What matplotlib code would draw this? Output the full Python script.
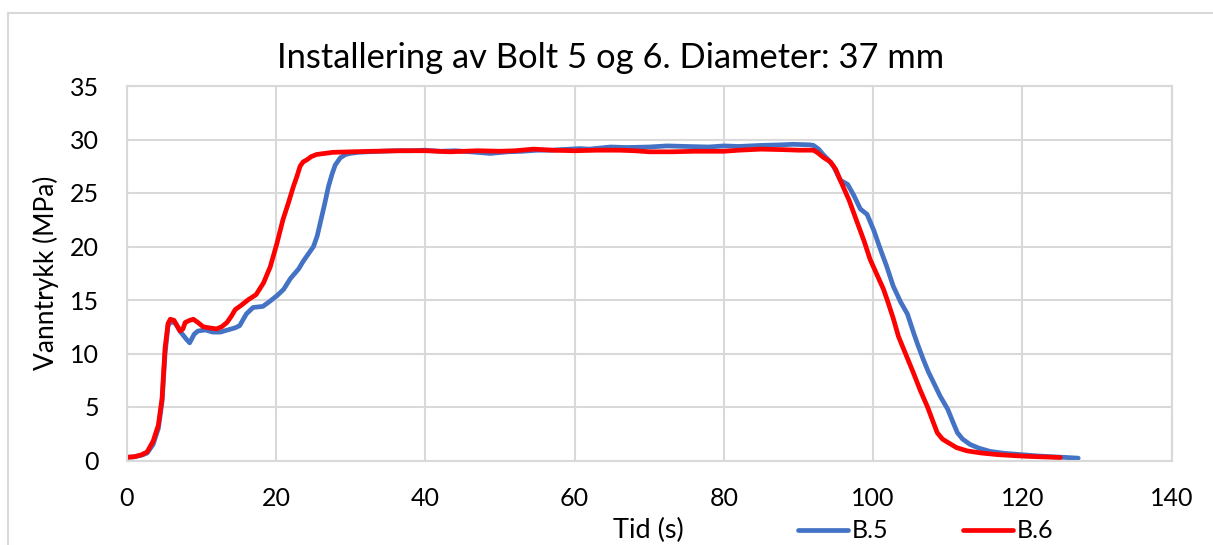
import matplotlib
matplotlib.use("Agg")
import matplotlib.pyplot as plt
from matplotlib.lines import Line2D

plt.rcParams['font.family'] = ['Lato', 'DejaVu Sans']

# Bolt 5 (B.5): time (s) and water pressure (MPa)
t_b5 = [0, 1, 2, 2.7, 3.5, 4.2, 4.7, 5.1, 5.5, 5.9,
        6.5, 7.2, 8.0, 8.4, 9.0, 9.5, 10.5, 11.5, 12.5, 13.5,
        14.5, 15.1, 16.0, 16.9, 18.2, 19.0, 20.1, 21.0, 21.9, 23.0,
        23.6, 24.3, 25.0, 25.5, 25.9, 26.5, 27.0, 27.5, 27.9, 28.6,
        29.3, 29.9, 31, 32.2, 34, 36, 38, 40, 42, 44,
        46, 48.7, 51, 53, 55, 57, 58, 60.7, 62, 64.8,
        67, 70, 72.4, 75, 78, 80, 82, 85, 87.6, 89.3,
        91.5, 92.0, 92.7, 93.3, 94.0, 94.7, 95.6, 96.6, 97.4, 98.3,
        99.2, 100.1, 101.0, 101.8, 102.7, 103.7, 104.6, 105.4, 106.0, 106.7,
        107.4, 108.1, 109.0, 110.0, 110.7, 111.3, 112.0, 113.0, 114.2, 115.7,
        117.5, 119.8, 122, 124, 126, 127.5]
p_b5 = [0.3, 0.35, 0.5, 0.7, 1.5, 3.0, 5.5, 10.0, 12.6, 13.0,
        12.8, 12.0, 11.3, 11.0, 11.8, 12.1, 12.2, 12.0, 12.0, 12.2,
        12.4, 12.6, 13.7, 14.3, 14.4, 14.8, 15.4, 16.0, 17.0, 17.9,
        18.6, 19.3, 20.0, 21.0, 22.2, 24.0, 25.6, 26.8, 27.6, 28.3,
        28.6, 28.7, 28.8, 28.85, 28.9, 28.95, 28.95, 29.0, 28.9, 28.95,
        28.85, 28.7, 28.85, 28.9, 29.0, 29.0, 29.05, 29.15, 29.1, 29.3,
        29.25, 29.3, 29.4, 29.35, 29.3, 29.4, 29.35, 29.45, 29.5, 29.55,
        29.5, 29.45, 29.1, 28.6, 28.1, 27.5, 26.2, 25.8, 24.8, 23.5,
        23.0, 21.5, 19.7, 18.2, 16.3, 14.8, 13.7, 12.0, 10.8, 9.5,
        8.3, 7.3, 6.0, 4.8, 3.6, 2.6, 2.0, 1.5, 1.15, 0.85,
        0.68, 0.55, 0.43, 0.35, 0.28, 0.22]

# Bolt 6 (B.6)
t_b6 = [0, 1, 2, 2.7, 3.5, 4.2, 4.7, 5.1, 5.5, 5.8,
        6.3, 6.8, 7.1, 7.5, 7.8, 8.4, 8.9, 9.5, 10.2, 11.0,
        12.0, 12.7, 13.4, 14.0, 14.5, 15.3, 16.2, 17.3, 18.3, 19.2,
        20.1, 20.9, 21.6, 22.3, 22.8, 23.2, 23.6, 24.1, 24.7, 25.4,
        26.5, 27.6, 30, 33, 36.6, 40, 43.3, 47, 50, 52,
        54.5, 57, 60, 63, 66, 68, 70, 73, 76, 80,
        82, 85, 88, 90, 92.0, 92.5, 93.4, 94.3, 95.0, 95.6,
        96.8, 97.9, 98.8, 99.6, 100.5, 101.4, 101.9, 102.7, 103.4, 104.4,
        105.4, 106.3, 107.3, 108.0, 108.6, 109.3, 110.0, 111.2, 112.6, 114.5,
        116.7, 119, 121, 123, 125.1]
p_b6 = [0.3, 0.35, 0.55, 0.8, 1.8, 3.3, 5.8, 10.5, 12.8, 13.2,
        13.1, 12.5, 12.1, 12.3, 12.9, 13.1, 13.2, 12.9, 12.5, 12.4,
        12.3, 12.5, 12.9, 13.5, 14.1, 14.5, 15.0, 15.5, 16.6, 18.1,
        20.3, 22.5, 24.0, 25.6, 26.6, 27.5, 27.9, 28.1, 28.4, 28.6,
        28.7, 28.8, 28.85, 28.9, 28.95, 28.95, 28.85, 28.95, 28.9, 28.95,
        29.1, 29.0, 28.95, 29.0, 29.0, 28.95, 28.85, 28.85, 28.9, 28.9,
        29.0, 29.1, 29.05, 29.0, 29.0, 28.8, 28.3, 27.9, 27.2, 26.2,
        24.3, 22.2, 20.5, 18.8, 17.4, 16.0, 15.0, 13.3, 11.6, 9.9,
        8.2, 6.6, 5.0, 3.7, 2.6, 2.0, 1.7, 1.2, 0.9, 0.7,
        0.55, 0.45, 0.38, 0.33, 0.28]

x_ticks = [0, 20, 40, 60, 80, 100, 120, 140]
y_ticks = [0, 5, 10, 15, 20, 25, 30, 35]

BLUE = '#4472C4'
RED = '#FF0000'
GRID = '#D9D9D9'

W, H = 1213, 545
fig = plt.figure(figsize=(W / 100, H / 100), dpi=100)
fig.patch.set_facecolor('white')

# chart frame (left and top edges visible)
fig.add_artist(Line2D([7.5 / W, 7.5 / W], [0, 1 - 13 / H], transform=fig.transFigure,
                      color=GRID, lw=1.5))
fig.add_artist(Line2D([7.5 / W, 1], [1 - 13 / H, 1 - 13 / H], transform=fig.transFigure,
                      color=GRID, lw=1.5))

ax = fig.add_axes([127 / W, 1 - 460.5 / H, (1171.5 - 127) / W, (460.5 - 86) / H])
ax.plot(t_b5, p_b5, color=BLUE, lw=3.4, label='B.5', solid_capstyle='round')
ax.plot(t_b6, p_b6, color=RED, lw=3.4, label='B.6', solid_capstyle='round')

ax.set_xlim(0, 140)
ax.set_ylim(0, 35)
ax.set_xticks(x_ticks)
ax.set_yticks(y_ticks)
ax.tick_params(length=0, labelsize=18, colors='black')
ax.tick_params(axis='y', pad=20)
ax.tick_params(axis='x', pad=19)
ax.grid(True, color=GRID, lw=1.5)
ax.set_axisbelow(True)
for s in ax.spines.values():
    s.set_color(GRID)
    s.set_linewidth(1.5)

# title centred on the whole chart frame
fig.text(611 / W, 1 - 58 / H, 'Installering av Bolt 5 og 6. Diameter: 37 mm',
         fontsize=24.8, ha='center', va='center')
ax.set_ylabel('Vanntrykk (MPa)', fontsize=19, labelpad=8)
fig.text(648 / W, 1 - 530 / H, 'Tid (s)', fontsize=19.5, ha='center', va='center')

leg = fig.legend(loc='center left', bbox_to_anchor=(798 / W, 1 - 531 / H), ncol=2,
                 frameon=False, fontsize=18, handlelength=2.0, handletextpad=0.15,
                 columnspacing=3.0, borderaxespad=0, borderpad=0)

fig.savefig('out.png', dpi=100)
